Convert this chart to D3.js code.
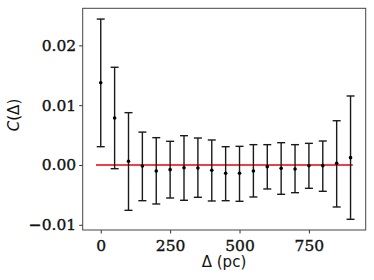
<!DOCTYPE html>
<html><head><meta charset="utf-8">
<script src="https://cdn.jsdelivr.net/npm/d3@7"></script>
<style>body{margin:0;background:#fff}svg{display:block}</style>
</head><body>
<svg id="c" width="374" height="280"></svg>
<script>
const deltas = [0,50,100,150,200,250,300,350,400,450,500,550,600,650,700,750,800,850,900];
const values = [0.01376,0.00786,0.00062,-0.00017,-0.001,-0.00078,-0.00045,-0.0005,-0.00089,-0.00139,-0.00139,-0.001,-0.00028,-0.00056,-0.00067,-0.00011,-0.00011,0.00028,0.00123];
const upper  = [0.0244,0.01634,0.00875,0.0055,0.00457,0.00396,0.0049,0.00451,0.00418,0.00306,0.00312,0.0034,0.0034,0.00373,0.0034,0.00362,0.00401,0.0074,0.01154];
const lower  = [0.00306,-0.00062,-0.00758,-0.00597,-0.00652,-0.00552,-0.0059,-0.0054,-0.00602,-0.00597,-0.00607,-0.00535,-0.00401,-0.0049,-0.00463,-0.0039,-0.0044,-0.00702,-0.00908];
const xTicks = [0,250,500,750];
const yTicks = [-0.01,0,0.01,0.02];
const yTickLabels = ["\u22120.01","0.00","0.01","0.02"];
const refLineX = [-17,908];
const refLineY = 0;

const svg = d3.select("#c");
const L=82.7, R=365.7, T=8.3, B=230;
const x = d3.scaleLinear().domain([-65,954.6]).range([L,R]);
const y = d3.scaleLinear().domain([-0.01087,0.0262]).range([B,T]);

const tickFont = "'DejaVu Serif', serif";
const xAxis = d3.axisBottom(x).tickValues(xTicks).tickSize(3.5).tickPadding(3).tickFormat(d3.format("d"));
const yAxis = d3.axisLeft(y).tickValues(yTicks).tickSize(3.5).tickPadding(3).tickFormat((d,i)=>yTickLabels[i]);

const gx = svg.append("g").attr("transform",`translate(0,${B})`).call(xAxis);
const gy = svg.append("g").attr("transform",`translate(${L},0)`).call(yAxis);
[gx,gy].forEach(g=>{
  g.attr("font-size",15.5);
  g.select(".domain").remove();
  g.selectAll(".tick line").attr("stroke","#333").attr("stroke-width",1);
  g.selectAll(".tick text").attr("fill","#111").attr("stroke","#111").attr("stroke-width",0.35)
    .style("font-family",tickFont);
});
gx.selectAll(".tick text").attr("dy","0.95em");

svg.append("rect").attr("x",L).attr("y",T).attr("width",R-L).attr("height",B-T)
  .attr("fill","none").attr("stroke","#444").attr("stroke-width",1);

svg.append("line").attr("x1",x(refLineX[0])).attr("x2",x(refLineX[1]))
  .attr("y1",y(refLineY)).attr("y2",y(refLineY)).attr("stroke","#e8000b").attr("stroke-width",1.5);

const data = deltas.map((d,i)=>({d,v:values[i],u:upper[i],l:lower[i]}));
const eb = svg.append("g").attr("stroke","#1a1a1a").attr("stroke-width",1.4);
eb.selectAll("line.v").data(data).join("line").attr("class","v")
  .attr("x1",d=>x(d.d)).attr("x2",d=>x(d.d)).attr("y1",d=>y(d.u)).attr("y2",d=>y(d.l));
eb.selectAll("line.cu").data(data).join("line").attr("class","cu")
  .attr("x1",d=>x(d.d)-4).attr("x2",d=>x(d.d)+4).attr("y1",d=>y(d.u)).attr("y2",d=>y(d.u));
eb.selectAll("line.cl").data(data).join("line").attr("class","cl")
  .attr("x1",d=>x(d.d)-4).attr("x2",d=>x(d.d)+4).attr("y1",d=>y(d.l)).attr("y2",d=>y(d.l));
svg.append("g").selectAll("circle").data(data).join("circle")
  .attr("cx",d=>x(d.d)).attr("cy",d=>y(d.v)).attr("r",1.8).attr("fill","#000");

svg.append("text").attr("x",224).attr("y",267).attr("text-anchor","middle")
  .style("font-family","'DejaVu Sans', sans-serif").attr("font-size",15).attr("fill","#111")
  .text("\u0394 (pc)");
svg.append("text").attr("transform","translate(19,115) rotate(-90)").attr("text-anchor","middle")
  .style("font-family","'DejaVu Sans', sans-serif").attr("font-size",15).attr("fill","#111")
  .html('<tspan font-style="italic">C</tspan>(\u0394)');
</script>
</body></html>
